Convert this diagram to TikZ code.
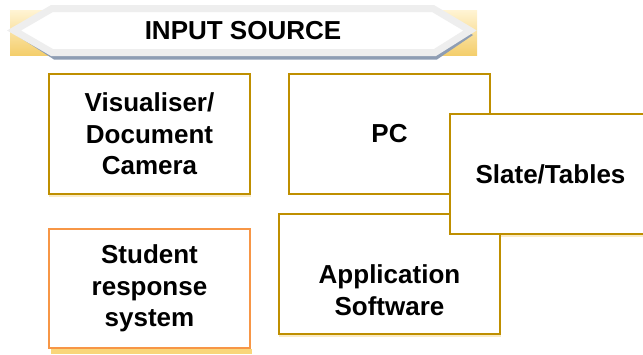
\documentclass[tikz,border=0pt]{standalone}
\usepackage{fontspec}
\setmainfont{Liberation Sans}
\definecolor{boxgold}{HTML}{BF8F00}
\definecolor{boxorange}{HTML}{F79646}
\definecolor{bandgray}{HTML}{EEEEEE}
\definecolor{shadowblue}{HTML}{8E9DB3}
\definecolor{goldtop}{HTML}{FFF4D4}
\definecolor{goldbot}{HTML}{F4CE6C}
\definecolor{yshadow}{HTML}{F9D67A}
\definecolor{lshadow}{HTML}{FBEBC4}
\tikzset{
  boxtext/.style={font=\fontsize{26}{31.5}\selectfont\bfseries, align=center},
  goldbox/.style={draw=boxgold, line width=2pt, fill=white, minimum width=201pt, minimum height=120pt, inner sep=0pt},
  orangebox/.style={draw=boxorange, line width=2pt, fill=white, minimum width=201pt, minimum height=119pt, inner sep=0pt},
}
\begin{document}
\begin{tikzpicture}[x=1pt,y=-1pt]
\useasboundingbox (0,0) rectangle (643,354);
\clip (0,0) rectangle (643,354);
% banner background
\shade[top color=goldtop, bottom color=goldbot] (10,10) rectangle (477,55);
% banner shadow
\fill[shadowblue] (16,35) -- (54,13) -- (435,13) -- (473,35) -- (437,59.5) -- (54,59.5) -- cycle;
% banner
\draw[bandgray, line width=7pt, fill=white, line join=miter]
  (14,30.5) -- (52,8.5) -- (433,8.5) -- (470,30.5) -- (435,52.5) -- (52,52.5) -- cycle;
\node[boxtext] (banner) at (243,31) {INPUT SOURCE};
% shadows under boxes
\fill[lshadow] (49,195) rectangle (251,197);
\fill[lshadow] (279,335) rectangle (501,337);
\fill[lshadow] (450,235) rectangle (650,237);
\fill[yshadow] (51,349) rectangle (252,354);
% boxes
\node[goldbox, boxtext] (vis) at (149.5,134) {Visualiser/\\Document\\Camera};
\node[goldbox, boxtext] (pc) at (389.5,134) {PC};
\node[goldbox, minimum width=221pt] (app) at (389.5,274) {};
\node[boxtext] (apptxt) at (389.5,290) {Application\\Software};
\node[goldbox, boxtext] (slate) at (550.5,174) {Slate/Tables};
\node[orangebox, boxtext] (srs) at (149.5,288.5) {Student\\response\\system};
\end{tikzpicture}
\end{document}
